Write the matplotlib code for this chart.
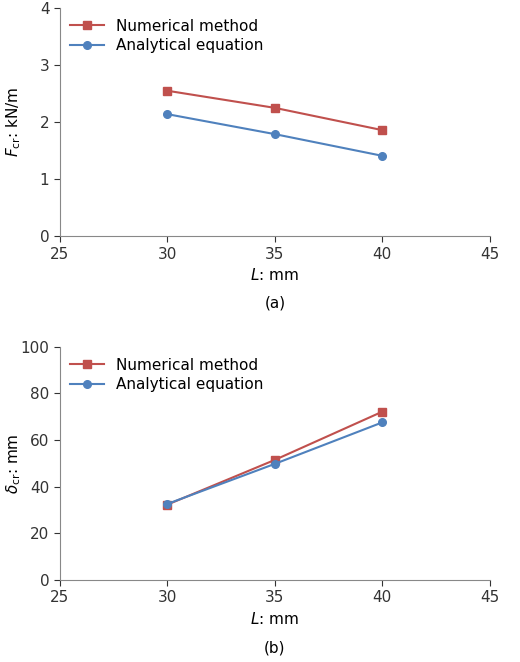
import matplotlib.pyplot as plt

L = [30, 35, 40]
F_num = [2.55, 2.25, 1.86]
F_ana = [2.14, 1.79, 1.41]
d_num = [32.3, 51.5, 72.2]
d_ana = [32.6, 49.8, 67.6]

red = '#c0504d'
blue = '#4f81bd'

fig = plt.figure(figsize=(5.2, 6.62), dpi=100)
ax1 = fig.add_axes([0.115, 0.643, 0.827, 0.345])
ax2 = fig.add_axes([0.115, 0.124, 0.827, 0.352])

def style(ax, ylim, yticks, ylabel, cap):
    ax.set_xlim(25, 45)
    ax.set_xticks([25, 30, 35, 40, 45])
    ax.set_ylim(*ylim)
    ax.set_yticks(yticks)
    for s in ['top', 'right']:
        ax.spines[s].set_visible(False)
    for s in ['left', 'bottom']:
        ax.spines[s].set_color('#888888')
    ax.tick_params(colors='#333333', labelsize=11, direction='out', length=4)
    ax.set_ylabel(ylabel, fontsize=11)
    ax.yaxis.set_label_coords(-0.085, 0.5)
    ax.set_xlabel('$L$: mm', fontsize=11)
    ax.text(0.5, -0.31, cap, transform=ax.transAxes, ha='center', fontsize=11)
    ax.legend(loc='upper left', frameon=False, fontsize=11, handlelength=2.2,
              borderaxespad=0.3, labelspacing=0.3)

ax1.plot(L, F_num, color=red, marker='s', markersize=5.5, lw=1.5, label='Numerical method')
ax1.plot(L, F_ana, color=blue, marker='o', markersize=5.5, lw=1.5, label='Analytical equation')
style(ax1, (0, 4), [0, 1, 2, 3, 4], r'$F_{\rm cr}$: kN/m', '(a)')

ax2.plot(L, d_num, color=red, marker='s', markersize=5.5, lw=1.5, label='Numerical method')
ax2.plot(L, d_ana, color=blue, marker='o', markersize=5.5, lw=1.5, label='Analytical equation')
style(ax2, (0, 100), [0, 20, 40, 60, 80, 100], r'$\delta_{\rm cr}$: mm', '(b)')

fig.savefig('out.png', dpi=100)
